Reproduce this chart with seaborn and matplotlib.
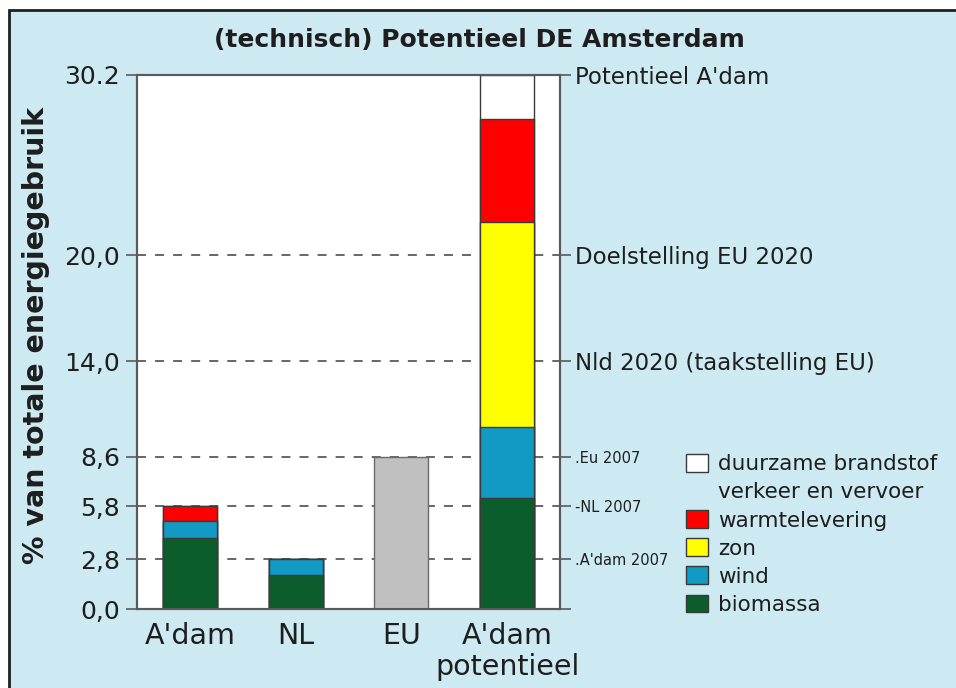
import matplotlib
matplotlib.use("Agg")
import matplotlib.pyplot as plt
from matplotlib.patches import Patch, Rectangle
import seaborn as sns
import pandas as pd

# Aandeel duurzame energie (% van totale energiegebruik)
categorieen = ["A'dam", "NL", "EU", "A'dam\npotentieel"]
biomassa = [4.0, 1.9, 0.0, 6.3]
wind = [0.95, 0.9, 0.0, 4.0]
zon = [0.0, 0.0, 0.0, 11.6]
warmtelevering = [0.85, 0.0, 0.0, 5.8]
duurzame_brandstof = [0.0, 0.0, 0.0, 2.5]
eu_totaal = [0.0, 0.0, 8.6, 0.0]

# Referentieniveaus (links als getal, rechts met omschrijving)
niveaus = [0.0, 2.8, 5.8, 8.6, 14.0, 20.0, 30.2]
niveau_getallen = ["0,0", "2,8", "5,8", "8,6", "14,0", "20,0", "30.2"]
niveau_namen = ["", ".A'dam 2007", "-NL 2007", ".Eu 2007",
                "Nld 2020 (taakstelling EU)", "Doelstelling EU 2020",
                "Potentieel A'dam"]

sns.set_theme(style="white")
plt.rcParams["font.family"] = ["DejaVu Sans"]
tekst = "#1e1e1e"
lijn = "#5a5a5a"

fig = plt.figure(figsize=(9.56, 6.88), dpi=100, facecolor="white")
fig.patches.append(Rectangle((9 / 956, -0.2), 1.2, 1.2 - 10 / 688,
                             transform=fig.transFigure, facecolor="#cde9f2",
                             edgecolor="#202020", linewidth=2, zorder=-5))

ax = fig.add_axes([137 / 956, 1 - 609 / 688, 423 / 956, 534 / 688])
ax.set_facecolor("white")

# Stapeling: lagen van onder naar boven
lagen = [
    ("biomassa", biomassa, "#0b5e2b"),
    ("wind", wind, "#139ac4"),
    ("zon", zon, "#ffff00"),
    ("warmtelevering", warmtelevering, "#ff0000"),
    ("duurzame brandstof", duurzame_brandstof, "#ffffff"),
]
df = pd.DataFrame({"categorie": categorieen, "eu": eu_totaal})
cumulatief = []
totaal = [0.0] * len(categorieen)
for naam, waarden, kleur in lagen:
    totaal = [t + w for t, w in zip(totaal, waarden)]
    cumulatief.append((naam, list(totaal), kleur))

# Bovenste laag eerst tekenen, lagere lagen eroverheen
for naam, hoogtes, kleur in reversed(cumulatief):
    df[naam] = hoogtes
    sns.barplot(data=df, x="categorie", y=naam, color=kleur, saturation=1,
                width=0.51, edgecolor="#3a3a3a", linewidth=1.0,
                errorbar=None, ax=ax, zorder=3)
sns.barplot(data=df, x="categorie", y="eu", color="#c0c0c0", saturation=1,
            width=0.51, edgecolor="#6a6a6a", linewidth=1.0,
            errorbar=None, ax=ax, zorder=3)
# nulhoogte-balken niet tonen
for p in ax.patches:
    if p.get_height() == 0:
        p.set_visible(False)

ax.set_xlim(-0.5, 3.5)
ax.set_ylim(0, 30.2)
ax.set_xlabel("")
ax.set_ylabel("")
ax.set_yticks(niveaus)
ax.set_yticklabels(niveau_getallen)
ax.tick_params(axis="y", direction="out", length=8, width=1.2, color=lijn,
               labelsize=18, labelcolor=tekst, pad=4, left=True)
ax.tick_params(axis="x", length=0, labelsize=20.5, labelcolor=tekst, pad=9)
for lab in ax.get_xticklabels():
    lab.set_linespacing(1.15)
    lab.set_verticalalignment("top")

for y in niveaus[1:-1]:
    ax.axhline(y, color=lijn, linestyle=(0, (5, 5)), linewidth=1.3, zorder=1)

for s in ax.spines.values():
    s.set_color(lijn)
    s.set_linewidth(1.5)

ax2 = ax.twinx()
ax2.set_ylim(ax.get_ylim())
ax2.set_yticks(niveaus)
ax2.set_yticklabels(niveau_namen)
ax2.tick_params(axis="y", direction="out", length=8, width=1.2, color=lijn,
                labelsize=16.5, labelcolor=tekst, pad=3, right=True)
for i, lab in enumerate(ax2.get_yticklabels()):
    if 1 <= i <= 3:
        lab.set_fontsize(10.5)
for s in ax2.spines.values():
    s.set_color(lijn)
    s.set_linewidth(1.5)

fig.text(0.501, 1 - 40 / 688, "(technisch) Potentieel DE Amsterdam",
         ha="center", va="center", fontsize=18, fontweight="bold", color=tekst)
fig.text(36 / 956, 1 - 335 / 688, "% van totale energiegebruik",
         ha="center", va="center", rotation=90, fontsize=20.5,
         fontweight="bold", color=tekst)

leeg = Patch(facecolor="none", edgecolor="none")
handles = [
    Patch(facecolor="#ffffff", edgecolor="#3a3a3a"), leeg,
    Patch(facecolor="#ff0000", edgecolor="#3a3a3a"),
    Patch(facecolor="#ffff00", edgecolor="#3a3a3a"),
    Patch(facecolor="#139ac4", edgecolor="#3a3a3a"),
    Patch(facecolor="#0b5e2b", edgecolor="#3a3a3a"),
]
labels = ["duurzame brandstof", "verkeer en vervoer", "warmtelevering",
          "zon", "wind", "biomassa"]
fig.legend(handles, labels, loc="upper left",
           bbox_to_anchor=(686 / 956, 1 - 454 / 688), frameon=False,
           fontsize=15.5, labelcolor=tekst, handlelength=1.0,
           handleheight=0.9, handletextpad=0.5, labelspacing=0.36,
           borderpad=0, borderaxespad=0)

fig.savefig("out.png", dpi=100, facecolor=fig.get_facecolor())
